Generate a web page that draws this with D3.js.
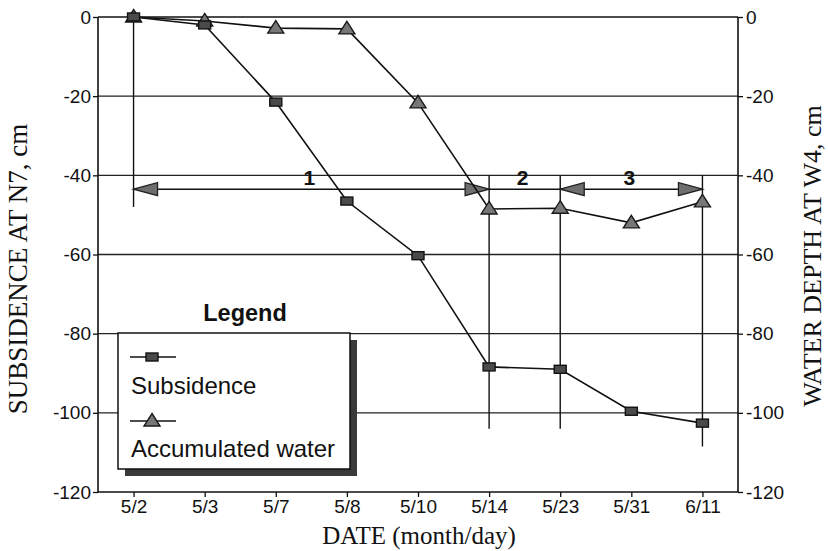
<!DOCTYPE html>
<html><head><meta charset="utf-8">
<script src="https://cdn.jsdelivr.net/npm/d3@7"></script>
<style>body{margin:0;background:#fff}svg{display:block}</style>
</head><body>
<svg id="c" width="828" height="551"></svg>
<script>
const dates = ["5/2","5/3","5/7","5/8","5/10","5/14","5/23","5/31","6/11"];
const subsidence = [0, -2, -21.5, -46.5, -60.3, -88.4, -89, -99.6, -102.6];
const accumulatedWater = [0, -1, -2.8, -3, -21.7, -48.5, -48.3, -52, -46.7];
const yTicks = [0, -20, -40, -60, -80, -100, -120];
const regionLabels = ["1", "2", "3"];
const regionStart = ["5/2", "5/14", "5/23"];
const regionEnd = ["5/14", "5/23", "6/11"];
const regionHeads = [true, false, true];
const regionArrowLevel = -43.5;
const markerLines = [["5/2", 0, -48], ["5/14", -40, -104], ["5/23", -40, -104], ["6/11", -40, -108.5]];

const svg = d3.select("#c");
const L = 98, R = 738, T = 17, B = 492;
const x = d3.scalePoint().domain(dates).range([L, R]).padding(0.5);
const y = d3.scaleLinear().domain([-120, 0]).range([B, T]);
const sans = "Liberation Sans, Arial, sans-serif";
const serif = "Liberation Serif, Times New Roman, serif";

// grid
svg.append("g").selectAll("line").data(yTicks.filter(v => v > -120 && v < 0)).join("line")
  .attr("x1", L).attr("x2", R).attr("y1", d => y(d)).attr("y2", d => y(d))
  .attr("stroke", "#222").attr("stroke-width", 1.3);
svg.append("line").attr("x1", L).attr("x2", R).attr("y1", y(0)).attr("y2", y(0))
  .attr("stroke", "#111").attr("stroke-width", 1.5);

// axes
const fmt = d => String(d);
const axL = svg.append("g").attr("transform", `translate(${L},0)`)
  .call(d3.axisLeft(y).tickValues(yTicks).tickSize(5).tickPadding(2).tickFormat(fmt));
const axR = svg.append("g").attr("transform", `translate(${R},0)`)
  .call(d3.axisRight(y).tickValues(yTicks).tickSize(5).tickPadding(3).tickFormat(fmt));
const axB = svg.append("g").attr("transform", `translate(0,${B})`)
  .call(d3.axisBottom(x).tickSize(5).tickPadding(3));
[axL, axR, axB].forEach(g => {
  g.selectAll(".domain").attr("stroke", "#111").attr("stroke-width", 1.6);
  g.selectAll(".tick line").attr("stroke", "#111").attr("stroke-width", 1.3);
  g.selectAll("text").attr("font-family", sans).attr("font-size", 19).attr("fill", "#111");
});
axB.select(".domain").attr("d", `M${L},0H${R}`);
axL.select(".domain").attr("d", `M0,${T}V${B}`);
axR.select(".domain").attr("d", `M0,${T}V${B}`);

// vertical marker lines
svg.append("g").selectAll("line").data(markerLines).join("line")
  .attr("x1", d => x(d[0])).attr("x2", d => x(d[0]))
  .attr("y1", d => y(d[1])).attr("y2", d => y(d[2]))
  .attr("stroke", "#111").attr("stroke-width", 1.4);

// region arrows
const ay = y(regionArrowLevel);
const headLen = 24, headH = 6.5;
regionLabels.forEach((lab, i) => {
  const x0 = x(regionStart[i]), x1 = x(regionEnd[i]);
  svg.append("line").attr("x1", x0).attr("x2", x1).attr("y1", ay).attr("y2", ay)
    .attr("stroke", "#111").attr("stroke-width", 1.5);
  if (regionHeads[i]) {
    svg.append("path").attr("d", `M${x0},${ay}L${x0 + headLen},${ay - headH}L${x0 + headLen},${ay + headH}Z`)
      .attr("fill", "#6e6e6e").attr("stroke", "#222").attr("stroke-width", 1.3);
    svg.append("path").attr("d", `M${x1},${ay}L${x1 - headLen},${ay - headH}L${x1 - headLen},${ay + headH}Z`)
      .attr("fill", "#6e6e6e").attr("stroke", "#222").attr("stroke-width", 1.3);
  }
  svg.append("text").attr("x", (x0 + x1) / 2 - 2).attr("y", y(-42.5))
    .attr("text-anchor", "middle").attr("font-family", sans)
    .attr("font-weight", "bold").attr("font-size", 21).attr("fill", "#111").text(lab);
});

// series lines
const line = d3.line().x((d, i) => x(dates[i])).y(d => y(d));
svg.append("path").attr("d", line(subsidence)).attr("fill", "none").attr("stroke", "#111").attr("stroke-width", 1.6);
svg.append("path").attr("d", line(accumulatedWater)).attr("fill", "none").attr("stroke", "#111").attr("stroke-width", 1.6);

const tri = (cx, cy) => `M${cx},${cy - 7.5}L${cx + 8},${cy + 5}L${cx - 8},${cy + 5}Z`;
function sq(g, cx, cy) {
  g.append("rect").attr("x", cx - 6).attr("y", cy - 4).attr("width", 12).attr("height", 8)
    .attr("fill", "#4a4a4a").attr("stroke", "#111").attr("stroke-width", 1.4);
}
function tr(g, cx, cy) {
  g.append("path").attr("d", tri(cx, cy)).attr("fill", "#777").attr("stroke", "#1a1a1a").attr("stroke-width", 1.4);
}
const mk = svg.append("g");
accumulatedWater.forEach((v, i) => tr(mk, x(dates[i]), y(v)));
subsidence.forEach((v, i) => sq(mk, x(dates[i]), y(v)));

// legend
const lg = svg.append("g");
lg.append("text").attr("x", 245).attr("y", 321).attr("text-anchor", "middle")
  .attr("font-family", sans).attr("font-weight", "bold")
  .attr("font-size", 23.5).attr("fill", "#111").text("Legend");
lg.append("rect").attr("x", 125).attr("y", 340).attr("width", 232).attr("height", 136).attr("fill", "#3a3a3a");
lg.append("rect").attr("x", 118).attr("y", 333).attr("width", 232).attr("height", 136)
  .attr("fill", "#fff").attr("stroke", "#111").attr("stroke-width", 1.5);
lg.append("line").attr("x1", 130).attr("x2", 176).attr("y1", 357).attr("y2", 357).attr("stroke", "#111").attr("stroke-width", 1.6);
sq(lg, 152, 357);
lg.append("text").attr("x", 131).attr("y", 394).attr("font-family", sans)
  .attr("font-size", 24).attr("fill", "#111").text("Subsidence");
lg.append("line").attr("x1", 130).attr("x2", 176).attr("y1", 421).attr("y2", 421).attr("stroke", "#111").attr("stroke-width", 1.6);
tr(lg, 152, 421);
lg.append("text").attr("x", 131).attr("y", 457).attr("font-family", sans)
  .attr("font-size", 24).attr("fill", "#111").text("Accumulated water");

// titles
svg.append("text").attr("x", 419).attr("y", 544).attr("text-anchor", "middle")
  .attr("font-family", serif).attr("font-size", 25).attr("fill", "#111")
  .text("DATE (month/day)");
svg.append("text").attr("transform", "translate(27,269) rotate(-90)").attr("text-anchor", "middle")
  .attr("font-family", serif).attr("font-size", 27).attr("fill", "#111")
  .text("SUBSIDENCE AT N7, cm");
svg.append("text").attr("transform", "translate(821,256) rotate(-90)").attr("text-anchor", "middle")
  .attr("font-family", serif).attr("font-size", 26).attr("fill", "#111")
  .text("WATER DEPTH AT W4, cm");
</script>
</body></html>
